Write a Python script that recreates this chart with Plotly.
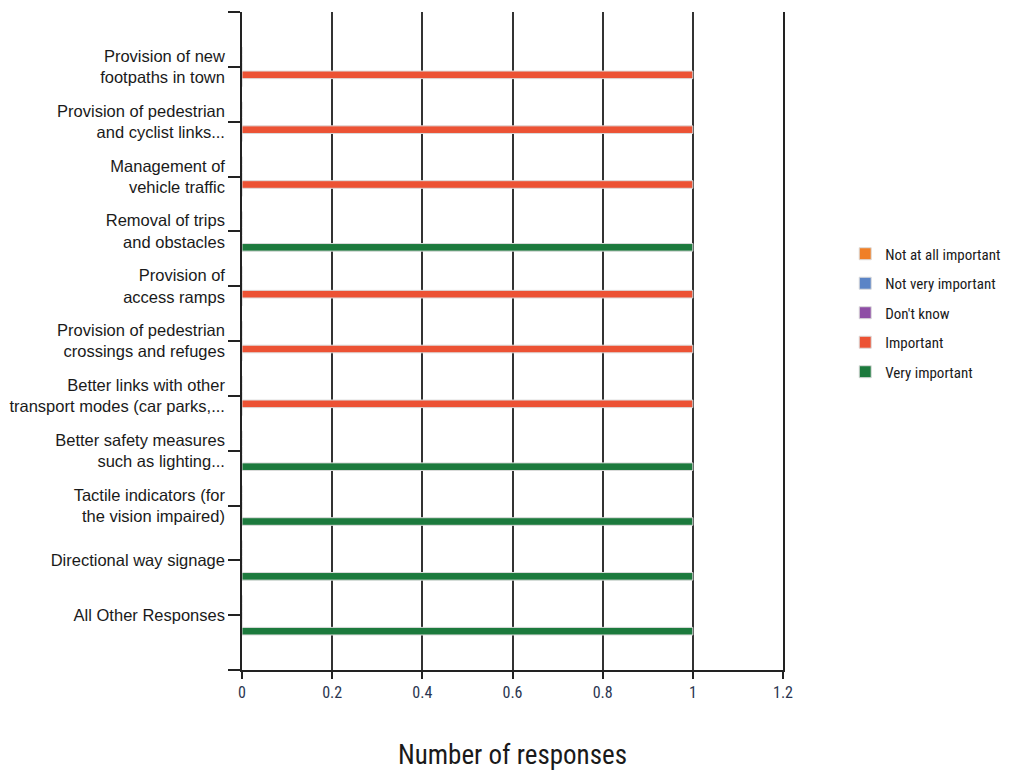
import plotly.graph_objects as go

# Survey question: importance of each pedestrian improvement
categories = [
    "Provision of new<br>footpaths in town",
    "Provision of pedestrian<br>and cyclist links...",
    "Management of<br>vehicle traffic",
    "Removal of trips<br>and obstacles",
    "Provision of<br>access ramps",
    "Provision of pedestrian<br>crossings and refuges",
    "Better links with other<br>transport modes (car parks,...",
    "Better safety measures<br>such as lighting...",
    "Tactile indicators (for<br>the vision impaired)",
    "Directional way signage",
    "All Other Responses",
]

not_at_all_important = [0, 0, 0, 0, 0, 0, 0, 0, 0, 0, 0]
not_very_important = [0, 0, 0, 0, 0, 0, 0, 0, 0, 0, 0]
dont_know = [0, 0, 0, 0, 0, 0, 0, 0, 0, 0, 0]
important = [1, 1, 1, 0, 1, 1, 1, 0, 0, 0, 0]
very_important = [0, 0, 0, 1, 0, 0, 0, 1, 1, 1, 1]

series_names = ["Not at all important", "Not very important", "Don't know",
                "Important", "Very important"]
series_values = [not_at_all_important, not_very_important, dont_know,
                 important, very_important]
series_colors = ["#F07F26", "#5B84C6", "#8E4DA5", "#EC5234", "#1C7A3D"]

x_ticks = [0, 0.2, 0.4, 0.6, 0.8, 1, 1.2]
x_tick_text = ["0", "0.2", "0.4", "0.6", "0.8", "1", "1.2"]

positions = list(range(len(categories)))

fig = go.Figure()
for name, vals, color in zip(series_names, series_values, series_colors):
    fig.add_trace(go.Bar(
        x=vals, y=positions, orientation="h", name=name, legendgroup=name,
        marker=dict(color=color, line=dict(color="#dcdcdc", width=1)),
    ))

label_font = dict(family="Liberation Sans, Arial, sans-serif", size=16.5, color="#1a1a1a")
narrow = "Liberation Sans Narrow, Arial Narrow, Roboto Condensed, Roboto, sans-serif"

fig.update_layout(
    width=1021, height=774,
    margin=dict(l=242, r=238, t=12, b=104),
    paper_bgcolor="white", plot_bgcolor="white",
    barmode="group", bargap=0.27, bargroupgap=0.05,
    showlegend=True,
    legend=dict(
        x=1.115, xanchor="left", y=0.5426, yanchor="middle",
        font=dict(family=narrow, size=15, color="#1a1a1a"),
        tracegroupgap=7, itemwidth=30,
        bgcolor="rgba(0,0,0,0)",
    ),
    xaxis=dict(
        range=[0, 1.2], tickvals=x_ticks, ticktext=x_tick_text,
        automargin=False,
        showgrid=True, gridcolor="#333333", gridwidth=1.5,
        zeroline=False, showline=True, linecolor="#222222", linewidth=1.5,
        ticks="outside", ticklen=7, tickcolor="#222222", tickwidth=1.5,
        tickfont=dict(family=narrow, size=16, color="#2a3550"),
        title=dict(text="Number of responses", standoff=44,
                   font=dict(family=narrow, size=27, color="#1a1a1a")),
    ),
    yaxis=dict(
        range=[len(categories), -1],
        tickvals=[-1] + positions + [len(categories)],
        ticktext=[""] + categories + [""],
        automargin=False,
        showgrid=False, zeroline=False,
        showline=True, mirror=True, linecolor="#222222", linewidth=1.5,
        ticks="outside", ticklen=12, tickcolor="#222222", tickwidth=1.5,
        tickfont=label_font,
    ),
)

fig.write_html("out.html")
